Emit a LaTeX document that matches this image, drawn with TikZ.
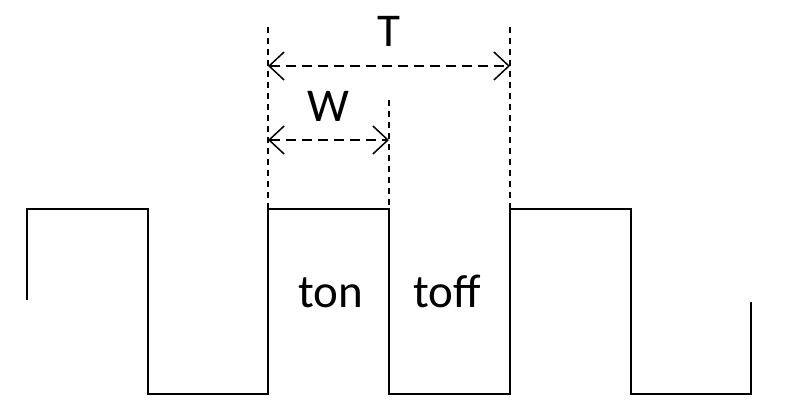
\documentclass[tikz,border=0pt]{standalone}
\usepackage{fontspec}
\setmainfont{Carlito}
\usetikzlibrary{arrows.meta, positioning}
\tikzset{
  wave/.style={line width=2pt, line join=miter},
  guide/.style={line width=1.5pt, dash pattern=on 6pt off 5pt},
  span/.style={line width=1.5pt, dash pattern=on 10pt off 6pt, {Straight Barb[length=15pt,width=28pt]}-{Straight Barb[length=15pt,width=28pt]}},
  lbl/.style={font=\fontsize{47}{53}\selectfont, inner sep=0pt, anchor=base}
}
\begin{document}
\begin{tikzpicture}[x=1pt,y=-1pt]
  \useasboundingbox (0,0) rectangle (785,409);
  % edges of one period
  \coordinate (OnEdge) at (268,209);
  \coordinate (OffEdge) at (389,209);
  \coordinate (NextEdge) at (510,209);
  \coordinate (OnTop) at (268,27);
  \coordinate (OffTop) at (389,100);
  \coordinate (NextTop) at (510,27);
  \coordinate (TL) at (268,66);
  \coordinate (TR) at (510,66);
  \coordinate (WL) at (268,140);
  \coordinate (WR) at (389,140);

  % square wave
  \draw[wave] (27,300) -- (27,209) -- (148,209) -- (148,394) -- (268,394) -- (OnEdge) -- (OffEdge) -- (389,394) -- (510,394) -- (NextEdge) -- (631,209) -- (631,394) -- (751,394) -- (751,302);

  % guides
  \draw[guide] (OnTop) -- (OnEdge);
  \draw[guide] (OffTop) -- (OffEdge);
  \draw[guide] (NextTop) -- (NextEdge);

  % dimensions
  \draw[span] (TL) -- node[lbl, yshift=19pt] (T) {T} (TR);
  \draw[span] (WL) -- node[lbl, yshift=18pt] (W) {W} (WR);

  \node[lbl] (Ton) at (331,307) {ton};
  \node[lbl] (Toff) at (447,307) {toff};
\end{tikzpicture}
\end{document}
